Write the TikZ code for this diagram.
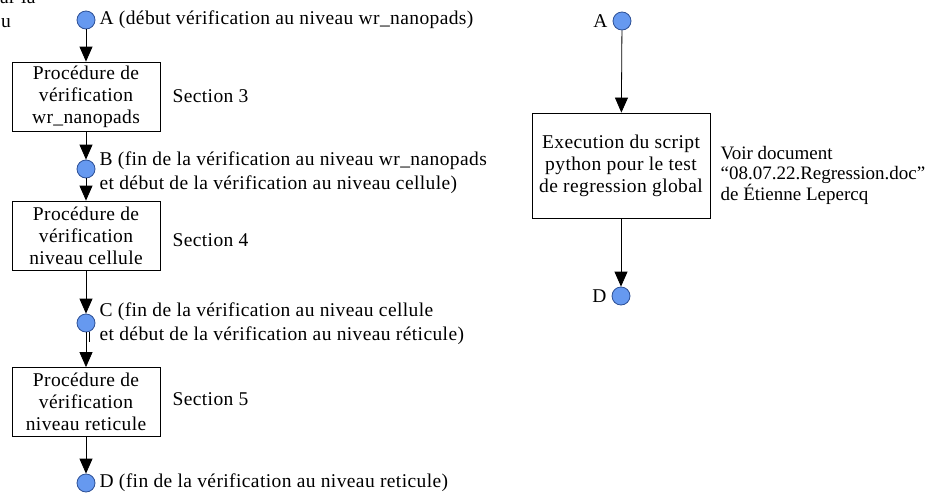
\documentclass[tikz,border=0pt]{standalone}
\usepackage{fontspec}
\setmainfont{Liberation Serif}
\newfontfamily\diagfont[LetterSpace=2]{Liberation Serif}
\newfontfamily\notefont{Liberation Serif}
\usetikzlibrary{positioning, arrows.meta}
\definecolor{PointBlue}{RGB}{102, 153, 240}
\definecolor{PointEdge}{RGB}{45, 80, 150}

\begin{document}
\begin{tikzpicture}[x=1pt, y=-1pt, font=\diagfont\fontsize{19.5}{24}\selectfont,
    procbox/.style={draw, line width=0.8pt, minimum width=148pt, minimum height=69pt, align=center, inner sep=2pt, font=\diagfont\fontsize{19.5}{22}\selectfont},
    point/.style={circle, draw=PointEdge, fill=PointBlue, line width=0.8pt, minimum size=18pt, inner sep=0pt},
    flow/.style={line width=0.8pt, -{Triangle[length=15pt, width=13pt]}},
    note/.style={align=left, anchor=west, inner sep=1pt}]
      \useasboundingbox (0,0) rectangle (935,493);

      % Cropped margin text
      \node[anchor=base west, inner sep=0pt] (cutA) at (0,3) {ar la};
      \node[anchor=base west, inner sep=0pt] (cutB) at (1,27) {u};

      % Left flow
      \node[point] (A) at (86,20) {};
      \node[procbox] (p1) at (86,96.5) {Procédure de\\vérification\\wr\_nanopads};
      \node[point] (B) at (86,169) {};
      \node[procbox] (p2) at (86,235.5) {Procédure de\\vérification\\niveau cellule};
      \node[point] (C) at (86,323) {};
      \node[procbox] (p3) at (86,402) {Procédure de\\vérification\\niveau reticule};
      \node[point] (D) at (86,483) {};

      \draw[flow] (A) -- (p1);
      \draw[flow] (p1) -- (B);
      \draw[flow] (B) -- (p2);
      \draw[flow] (p2) -- (C);
      \draw[flow] (C) -- (p3);
      \draw[line width=0.8pt] ([xshift=3pt]C.south) -- ++(0,10);
      \draw[flow] (p3) -- (D);

      % Left labels
      \node[note, right=3pt of A] (tA) {A (début vérification au niveau wr\_nanopads)};
      \node[note, right=3pt of B, yshift=-4pt] (tB) {B (fin de la vérification au niveau wr\_nanopads\\et début de la vérification au niveau cellule)};
      \node[note, right=3pt of C, yshift=-1pt] (tC) {C (fin de la vérification au niveau cellule\\et début de la vérification au niveau réticule)};
      \node[note, right=3pt of D] (tD) {D (fin de la vérification au niveau reticule)};
      \node[note, right=11pt of p1] (s3) {Section 3};
      \node[note, right=11pt of p2, yshift=-5pt] (s4) {Section 4};
      \node[note, right=11pt of p3, yshift=3pt] (s5) {Section 5};

      % Right flow
      \node[point] (A2) at (622,21) {};
      \node[procbox, minimum width=178pt, minimum height=105pt] (run) at (621,165.5) {Execution du script\\python pour le test\\de regression global};
      \node[point] (D2) at (621,296) {};
      \node[note, anchor=east, left=4pt of A2] (tA2) {A};
      \node[note, anchor=east, left=4pt of D2] (tD2) {D};

      \draw[flow] (A2) -- (run);
      \draw[flow] (run) -- (D2);

      \node[note, right=9pt of run, yshift=-10pt, font=\notefont\fontsize{19}{20}\selectfont] (doc) {Voir document\\“08.07.22.Regression.doc”\\de Étienne Lepercq};
\end{tikzpicture}
\end{document}
